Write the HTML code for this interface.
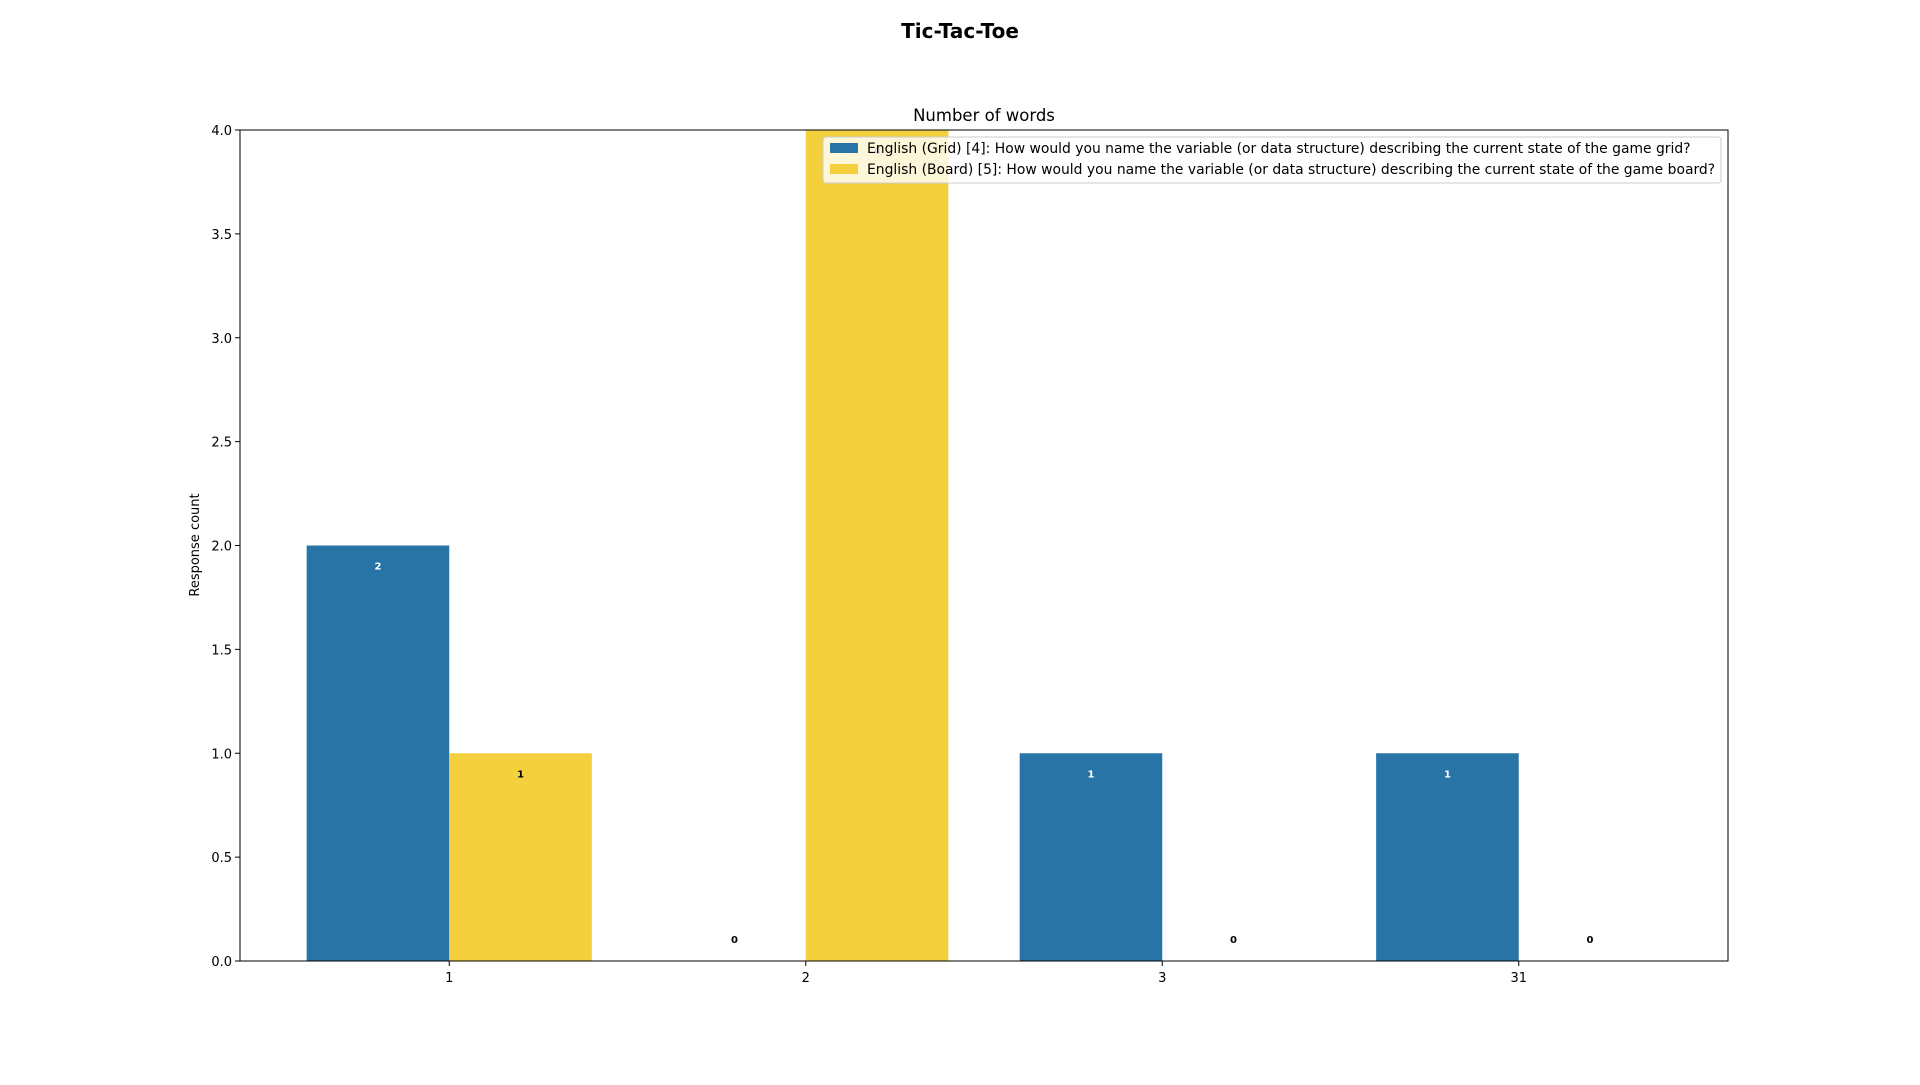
<!DOCTYPE html>
<html><head><meta charset="utf-8"><style>
body{margin:0;background:#fff;width:1920px;height:1080px;overflow:hidden;font-family:"Liberation Sans","DejaVu Sans",sans-serif;}
svg text{font-family:"DejaVu Sans","Liberation Sans",sans-serif;}
</style></head><body>
<svg id="chart" width="1920" height="1080">
<text x="960" y="38" text-anchor="middle" font-size="20" font-weight="bold">Tic-Tac-Toe</text>
<text x="984" y="121" text-anchor="middle" font-size="16.5">Number of words</text>
<text transform="translate(199,545) rotate(-90)" text-anchor="middle" font-size="13">Response count</text>
<g id="bars"></g><g id="axes"></g>
</svg>
<script>
const categories = ["1","2","3","31"];
const gridValues = [2,0,1,1];
const boardValues = [1,4,0,0];
const yTicks = [0,0.5,1,1.5,2,2.5,3,3.5,4];
const seriesNames = ["English (Grid) [4]: How would you name the variable (or data structure) describing the current state of the game grid?","English (Board) [5]: How would you name the variable (or data structure) describing the current state of the game board?"];
const L=240,R=1728,T=130,B=961,xmin=-0.587,xmax=3.587,ymax=4;
const NS="http://www.w3.org/2000/svg";
const X=i=>L+(i-xmin)/(xmax-xmin)*(R-L);
const Y=v=>B-v/ymax*(B-T);
const bw=(X(1)-X(0))*0.4;
const bars=document.getElementById('bars'),axes=document.getElementById('axes');
function mk(tag,attrs,parent){const e=document.createElementNS(NS,tag);for(const k in attrs)e.setAttribute(k,attrs[k]);parent.appendChild(e);return e;}
[[gridValues,"#2874a6",-1,"#fff"],[boardValues,"#f4d03f",0,"#000"]].forEach(([vals,col,off,tc],s)=>{
 vals.forEach((v,i)=>{
  const x0=X(i)+off*bw;
  const r=mk('rect',{x:x0,y:Y(v),width:bw,height:B-Y(v),fill:col},bars);
  
  
  const t=mk('text',{x:x0+bw/2,y:(v>0?Y(v)+24:Y(0)-18),'text-anchor':'middle','font-size':10,'font-weight':'bold',fill:v>0?tc:'#000'},bars);
  t.textContent=v;
  
  
 });
});
const frame=mk('rect',{x:L,y:T,width:R-L,height:B-T,fill:'none',stroke:'#000','stroke-width':1},axes);


yTicks.forEach(v=>{
 mk('line',{x1:L-5,x2:L,y1:Y(v),y2:Y(v),stroke:'#000'},axes);
 const t=mk('text',{x:L-8,y:Y(v)+5,'text-anchor':'end','font-size':13},axes);
 t.textContent=v.toFixed(1);
 
 
});
categories.forEach((c,i)=>{
 mk('line',{x1:X(i),x2:X(i),y1:B,y2:B+5,stroke:'#000'},axes);
 const t=mk('text',{x:X(i),y:B+21,'text-anchor':'middle','font-size':13},axes);
 t.textContent=c;
 
 
});
const lg=mk('g',{},axes);


mk('rect',{x:823,y:137,width:898,height:46,rx:3,fill:'rgba(255,255,255,0.8)',stroke:'#ccc'},lg);
["#2874a6","#f4d03f"].forEach((c,k)=>{
 const sw=mk('rect',{x:830,y:143+k*21,width:28,height:10,fill:c},lg);
 
 
 const t=mk('text',{x:867,y:153+k*21,'font-size':13.9},lg);
 t.textContent=seriesNames[k];
 
 
});
</script>
</body></html>
